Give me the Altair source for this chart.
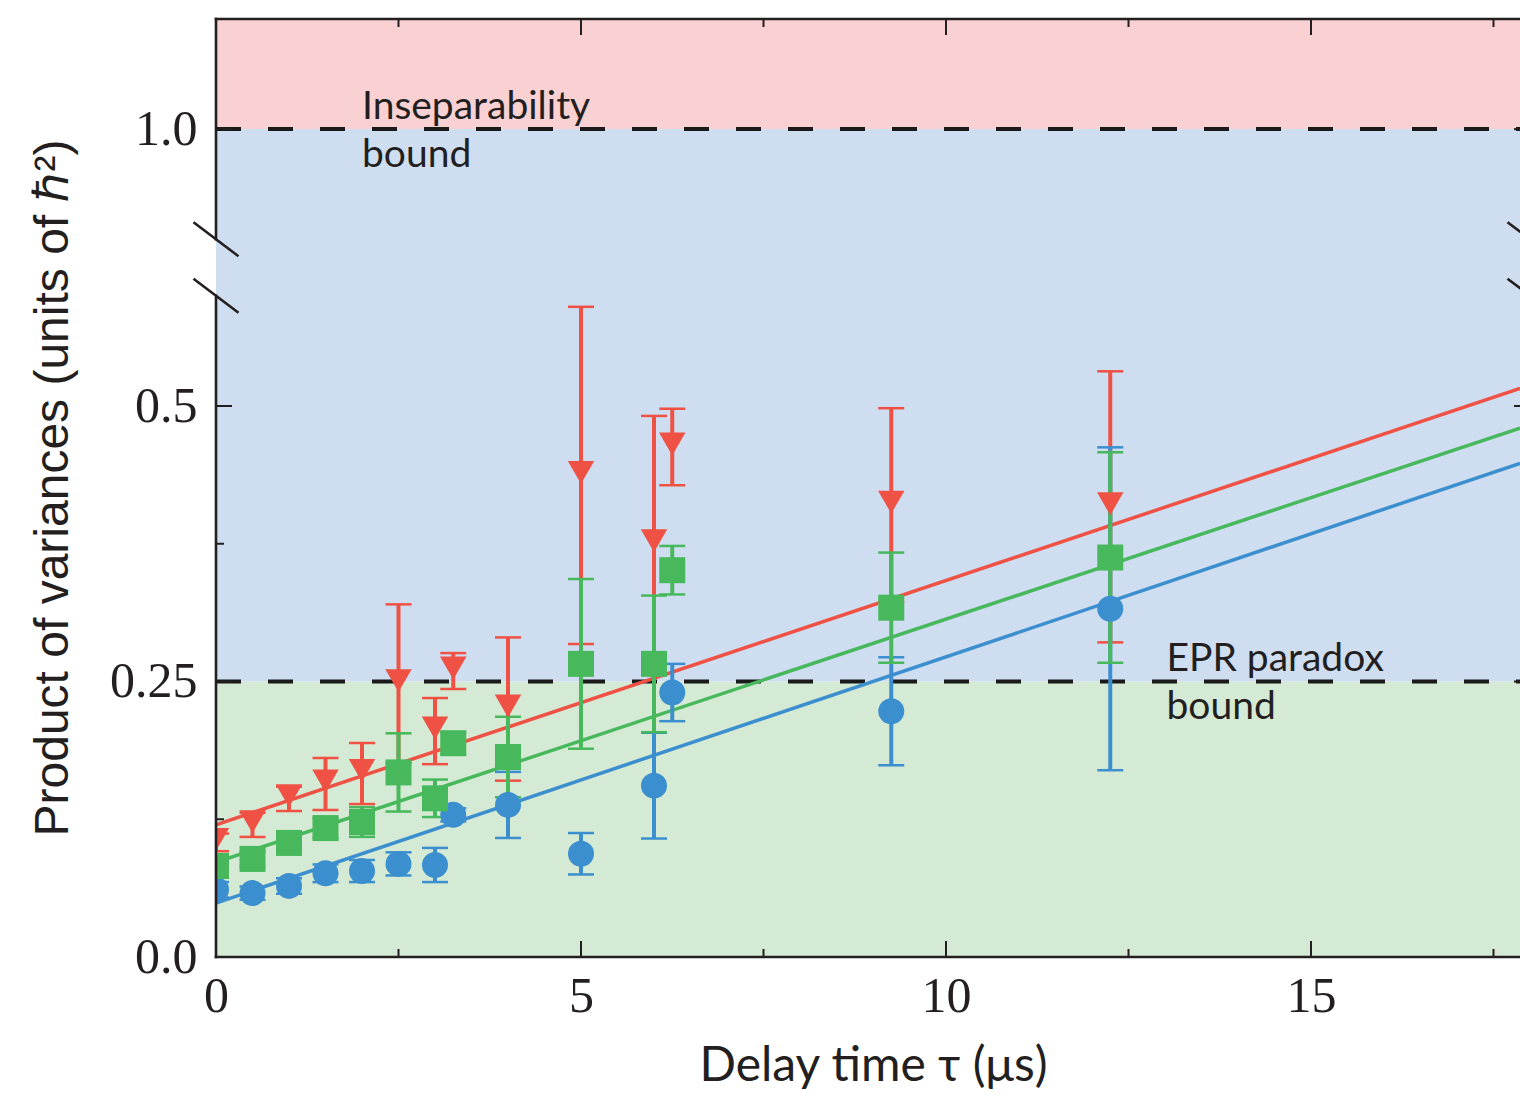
import altair as alt
import pandas as pd

# ---------------- data ----------------
delay = [0, 0.5, 1.0, 1.5, 2.0, 2.5, 3.0, 3.25, 4.0, 5.0, 6.0, 6.25, 9.25, 12.25]

red_y = [0.104, 0.120, 0.1435, 0.157, 0.1665, 0.248, 0.205, 0.2595, 0.225, 0.437, 0.375, 0.4628, 0.410, 0.4085]
red_err = [0.008, 0.011, 0.011, 0.0236, 0.0277, 0.072, 0.030, 0.0163, 0.065, 0.153, 0.116, 0.0347, 0.088, 0.123]

green_y = [0.0826, 0.089, 0.1035, 0.117, 0.1225, 0.1675, 0.144, 0.194, 0.1815, 0.266, 0.266, 0.351, 0.317, 0.3625]
green_err = [0.006, 0.007, 0.008, 0.009, 0.0135, 0.0355, 0.017, 0.010, 0.0365, 0.077, 0.062, 0.022, 0.050, 0.0955]

blue_y = [0.061, 0.058, 0.0645, 0.076, 0.078, 0.0845, 0.0835, 0.129, 0.138, 0.0937, 0.1555, 0.240, 0.223, 0.316]
blue_err = [0.007, 0.006, 0.007, 0.008, 0.010, 0.0105, 0.0155, 0.006, 0.030, 0.0188, 0.048, 0.026, 0.049, 0.1465]

# linear fits: values at the left edge and at the visible right edge
fit_x = [0, 17.863]
red_fit = [0.120, 0.516]
green_fit = [0.086, 0.480]
blue_fit = [0.049, 0.448]

bounds = [1.0, 0.25]
regions = ["EPR", "Inseparable", "Separable"]
region_lo = [0.0, 0.25, 1.0]
region_hi = [0.25, 1.0, 1.1]

x_ticks_major = [5, 10, 15]
x_ticks_minor = [2.5, 7.5, 12.5, 17.5]
y_ticks_major = [0.25, 0.5, 1.0]
y_ticks_minor = [0.125, 0.375]
y_labels = [0, 0.25, 0.5, 1.0]
x_labels = [0, 5, 10, 15]

break_y = [0.6, 0.9]

notes = ["Inseparability", "bound", "EPR paradox", "bound"]
notes_x = [2.0, 2.0, 13.02, 13.02]
notes_y = [1.0091, 0.9655, 0.2598, 0.2157]

# ---------------- styling ----------------
INK = "#231F20"
RED, GREEN, BLUE = "#EF5245", "#47B85B", "#3C8FCE"
XMAX = 17.863   # visible part of the axis (figure is cropped)
XFULL = 18.0    # full axis extent (right frame lies just outside the crop)
W, H = 1304, 938

# downward triangle drawn with its centre slightly above the data point
TRI_DOWN = "M -1 -1.096 L 1 -1.096 L 0 0.636 Z"

xs = alt.Scale(domain=[0, XMAX], nice=False, zero=False)
ys = alt.Scale(domain=[0, 0.6, 0.9, 1.1], range=[938, 276.8, 220.2, 0], nice=False, zero=False)

xaxis = alt.Axis(
    values=x_labels, format="d", ticks=False, domain=False, grid=False,
    labelFont="Liberation Serif", labelFontSize=50, labelColor=INK, labelPadding=14,
    labelFlush=False, labelOverlap=False,
    title="Delay time τ (μs)", titleFont="Lato", titleFontSize=48, titleFontWeight="normal",
    titleColor=INK, titleX=657, titleY=123, titleBaseline="alphabetic", titleAlign="center",
)
yaxis = alt.Axis(
    values=y_labels, labelExpr="datum.value == 0.25 ? '0.25' : format(datum.value, '.1f')",
    ticks=False, domain=False, grid=False,
    labelFont="Liberation Serif", labelFontSize=50, labelColor=INK, labelPadding=19,
    labelBaseline="middle", labelAlign="right", labelFlush=False, labelOverlap=False,
    title="Product of variances (units of ℏ²)", titleFont="Liberation Sans", titleFontSize=48,
    titleFontWeight="normal", titleColor=INK, titleX=-149, titleY=468.5,
    titleBaseline="alphabetic", titleAlign="center", titleAngle=270,
)


def X(f):
    return alt.X(f, type="quantitative", scale=xs, axis=xaxis)


def Y(f):
    return alt.Y(f, type="quantitative", scale=ys, axis=yaxis)


# background regions
bg_df = pd.DataFrame({"region": regions, "lo": region_lo, "hi": region_hi,
                      "x0": [0.0] * 3, "x1": [XMAX] * 3})
bg = alt.Chart(bg_df).mark_rect().encode(
    x=X("x0"), x2="x1", y=Y("lo"), y2="hi",
    color=alt.Color("region:N", legend=None,
                    scale=alt.Scale(domain=["EPR", "Inseparable", "Separable"],
                                    range=["#D5EAD4", "#CEDDF0", "#FAD1D2"])),
)

# dashed bounds
bd_df = pd.DataFrame({"v": bounds, "x0": [0.0] * 2, "x1": [XMAX] * 2})
bound_lines = alt.Chart(bd_df).mark_rule(color="#1A1A1A", strokeWidth=4, strokeDash=[25, 27]).encode(
    x=X("x0"), x2="x1", y=Y("v"))

layers = [bg, bound_lines]

series = [
    ("red", red_y, red_err, red_fit, RED, TRI_DOWN, 700),
    ("blue", blue_y, blue_err, blue_fit, BLUE, "circle", 676),
    ("green", green_y, green_err, green_fit, GREEN, "square", 676),
]
# fit lines
for name, yv, ev, fv, col, shp, sz in series:
    fdf = pd.DataFrame({"x": fit_x, "y": fv})
    layers.append(alt.Chart(fdf).mark_line(color=col, strokeWidth=3.5, clip=True).encode(
        x=X("x"), y=Y("y")))

# error bars
for name, yv, ev, fv, col, shp, sz in series:
    edf = pd.DataFrame({"x": delay, "y": yv, "e": ev})
    edf["lo"] = edf["y"] - edf["e"]
    edf["hi"] = edf["y"] + edf["e"]
    layers.append(alt.Chart(edf).mark_rule(color=col, strokeWidth=4, clip=True).encode(
        x=X("x"), y=Y("lo"), y2="hi"))
    cdf = pd.DataFrame({"x": delay * 2, "c": list(edf["lo"]) + list(edf["hi"])})
    layers.append(alt.Chart(cdf).mark_tick(color=col, orient="horizontal", size=26,
                                          thickness=2.5, opacity=1, clip=True).encode(
        x=X("x"), y=Y("c")))

# markers
for name, yv, ev, fv, col, shp, sz in series:
    mdf = pd.DataFrame({"x": delay, "y": yv})
    layers.append(alt.Chart(mdf).mark_point(filled=True, opacity=1, color=col, shape=shp,
                                            size=sz, strokeWidth=0, clip=True).encode(
        x=X("x"), y=Y("y")))

# frame (left axis broken)
fr_df = pd.DataFrame({"x0": [0.0, 0.0, 0.0, 0.0], "x1": [0.0, 0.0, XMAX, XMAX],
                      "y0": [0.0, 0.9, 0.0, 1.1], "y1": [0.6, 1.1, 0.0, 1.1]})
frame = alt.Chart(fr_df).mark_rule(color=INK, strokeWidth=2.6, strokeCap="square").encode(
    x=X("x0"), x2="x1", y=Y("y0"), y2="y1")
layers.append(frame)

# inward ticks
xt_maj = pd.DataFrame({"v": x_ticks_major})
xt_min = pd.DataFrame({"v": x_ticks_minor})
yt_maj = pd.DataFrame({"v": y_ticks_major})
yt_min = pd.DataFrame({"v": y_ticks_minor})
tick_kw = dict(color=INK, strokeWidth=2)
right = W + 10  # right frame position (just outside the crop)
layers += [
    alt.Chart(xt_maj).mark_rule(**tick_kw).encode(x=X("v"), y=alt.value(H), y2=alt.value(H - 16)),
    alt.Chart(xt_min).mark_rule(**tick_kw).encode(x=X("v"), y=alt.value(H), y2=alt.value(H - 8)),
    alt.Chart(xt_maj).mark_rule(**tick_kw).encode(x=X("v"), y=alt.value(0), y2=alt.value(16)),
    alt.Chart(xt_min).mark_rule(**tick_kw).encode(x=X("v"), y=alt.value(0), y2=alt.value(8)),
    alt.Chart(yt_maj).mark_rule(**tick_kw).encode(y=Y("v"), x=alt.value(0), x2=alt.value(16)),
    alt.Chart(yt_min).mark_rule(**tick_kw).encode(y=Y("v"), x=alt.value(0), x2=alt.value(8)),
    alt.Chart(yt_maj).mark_rule(**tick_kw).encode(y=Y("v"), x=alt.value(right - 16), x2=alt.value(right)),
    alt.Chart(yt_min).mark_rule(**tick_kw).encode(y=Y("v"), x=alt.value(right - 8), x2=alt.value(right)),
]

# axis-break marks
brk_df = pd.DataFrame({"x": [0.0, 0.0, XFULL, XFULL], "y": break_y * 2})
breaks = alt.Chart(brk_df).mark_point(
    shape="M -1 -0.756 L 1 0.756", size=2025, filled=False, opacity=1,
    color=INK, strokeWidth=2.6, clip=False).encode(x=X("x"), y=Y("y"))
layers.append(breaks)

# annotations
nt_df = pd.DataFrame({"t": notes, "x": notes_x, "y": notes_y})
ann = alt.Chart(nt_df).mark_text(align="left", baseline="alphabetic", font="Lato",
                                 fontSize=39, color=INK).encode(
    x=X("x"), y=Y("y"), text="t:N")
layers.append(ann)

chart = alt.layer(*layers).properties(
    width=W, height=H,
    autosize=alt.AutoSizeParams(type="none"),
    padding={"left": 216, "top": 19, "right": 0, "bottom": 142},
    background="white",
).configure_view(strokeWidth=0)

chart.save("out.html", embed_options={"renderer": "svg", "actions": False})
